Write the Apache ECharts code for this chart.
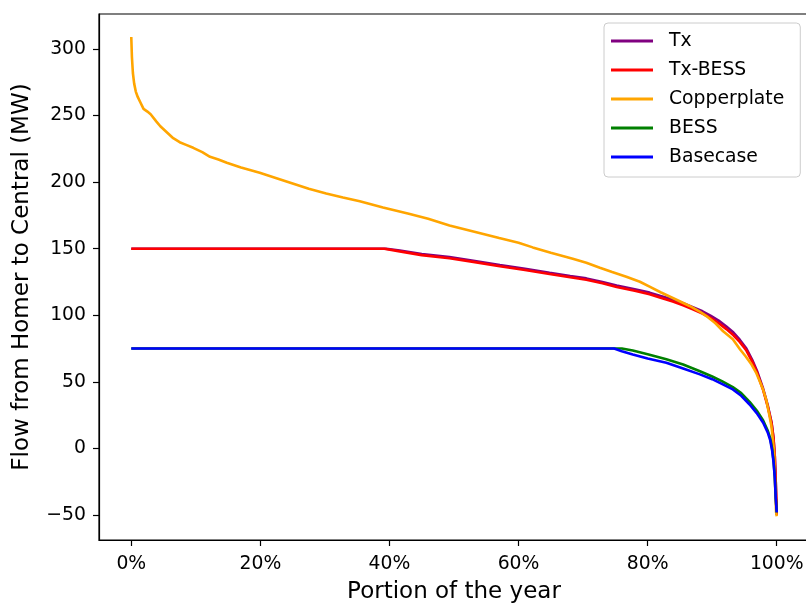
<!DOCTYPE html>
<html>
<head>
<meta charset="utf-8">
<script src="https://cdn.jsdelivr.net/npm/echarts@6/dist/echarts.min.js"></script>
<style>
  html, body { margin: 0; padding: 0; background: #fff; }
  #chart { width: 806px; height: 604px; }
</style>
</head>
<body>
<div id="chart"></div>
<script>
// Duration curves of flow from Homer to Central, x = portion of the year (%), y = MW
const txX = [0, 39.5, 41.6, 45, 49.3, 53, 57.1, 61, 64.8, 68, 70.5, 73, 75.2, 78, 80.3, 82, 83.9, 85.5, 87, 88.5, 89.8, 91, 92.2, 93.3, 94.3, 95.3, 96.2, 97, 97.9, 98.6, 99.2, 99.5, 99.7, 99.85, 100];
const txY = [150, 150, 148.7, 146, 143.7, 141, 137.7, 135, 132, 129.5, 127.7, 125, 122.4, 119.5, 117, 114.5, 111.8, 109, 106, 103, 99.5, 96, 91.5, 87, 81.5, 75, 66.5, 57.5, 44.8, 32.5, 19.5, 8, -5.8, -25, -50];

const txBessX = [0, 39.2, 41.6, 45, 49.3, 53, 57.1, 61, 64.8, 68, 70.5, 73, 75.2, 78, 80.3, 82, 83.9, 85.5, 87, 88.5, 89.8, 91, 92.2, 93.3, 94.3, 95.3, 96.2, 97, 97.9, 98.6, 99.2, 99.5, 99.7, 99.85, 100];
const txBessY = [150, 150, 148, 145.2, 142.8, 140.1, 136.8, 134, 131, 128.5, 126.7, 124, 121.3, 118.4, 115.8, 113.2, 110.4, 107.5, 104.5, 101.3, 97.8, 94, 89.6, 85, 79.8, 73.5, 65.2, 56.2, 43.8, 31.6, 18.8, 7.5, -6.2, -25.5, -50];

const copperX = [0, 0.1, 0.25, 0.45, 0.7, 1.0, 1.4, 1.9, 2.5, 3.0, 3.9, 4.5, 5.5, 6.5, 7.5, 8.5, 9.6, 11, 12.2, 13.5, 14.8, 17, 19.9, 22.5, 25, 27.5, 30.2, 32.8, 35.4, 39, 43, 46, 49.3, 53, 57, 60, 62.2, 65, 68.4, 70.5, 72.6, 74.5, 76.7, 78.8, 80.3, 82, 83.9, 85.2, 86.5, 88, 89.1, 90.5, 91.7, 93.2, 94.3, 95.2, 96.1, 96.8, 97.4, 97.9, 98.4, 98.9, 99.2, 99.4, 99.6, 99.7, 99.8, 99.9, 100];
const copperY = [309, 294, 282, 274, 268, 264, 260, 255, 253, 251, 245.5, 242, 237.5, 233, 230, 228, 225.8, 222.5, 219, 217, 214.6, 211, 207, 203, 199, 195, 191.5, 188.5, 185.7, 181, 176.3, 172.5, 167.5, 163, 158, 154.5, 151, 147, 142.5, 139.5, 135.7, 132.5, 129, 125.2, 121.5, 117.3, 113, 110, 107, 103, 99.4, 94, 88, 82, 74.5, 69, 63, 57, 50, 44, 36, 24, 16, 7, -3, -18, -35, -48, -51];

const bessX = [0, 76, 77.7, 80, 82.9, 85.5, 88.1, 90, 91.5, 93.2, 94.5, 95.8, 96.9, 97.9, 98.6, 99.0, 99.3, 99.5, 99.7, 99.85, 100];
const bessY = [75, 75, 73.5, 70.8, 67, 63, 58, 54, 50.5, 46, 41.5, 35, 28.5, 21, 13.5, 7.5, -0.5, -9, -21, -37, -48];

const baseX = [0, 74.8, 76, 77.7, 80, 82.9, 85.5, 88.1, 90, 91.5, 93.2, 94.5, 95.8, 96.9, 97.9, 98.6, 99.0, 99.3, 99.5, 99.7, 99.85, 100];
const baseY = [75, 75, 73, 70.6, 67.5, 64.4, 60, 55.6, 52, 48.5, 44.3, 39.5, 33, 26.5, 19.3, 12, 6, -2, -10, -22, -38, -48];

const xTicks = [0, 20, 40, 60, 80, 100];
const yTicks = [-50, 0, 50, 100, 150, 200, 250, 300];

const seriesNames = ['Tx', 'Tx-BESS', 'Copperplate', 'BESS', 'Basecase'];
const seriesColors = ['#800080', '#ff0000', '#ffa500', '#008000', '#0000ff'];
const seriesX = [txX, txBessX, copperX, bessX, baseX];
const seriesY = [txY, txBessY, copperY, bessY, baseY];

const FONT = 'DejaVu Sans';
const TICK_SIZE = 18.8;
const TITLE_SIZE = 23;

const pairs = (xs, ys) => xs.map((x, i) => [x, ys[i]]);
// typographic minus sign for negative tick values
const num = v => String(v).replace('-', '\u2212');

const chart = echarts.init(document.getElementById('chart'), null, { renderer: 'canvas' });

chart.setOption({
  animation: false,
  backgroundColor: '#ffffff',
  grid: {
    left: 99, top: 14, width: 710, height: 526,
    containLabel: false,
    outerBoundsMode: 'none',
    show: true, borderColor: '#000', borderWidth: 1.2,
    backgroundColor: 'transparent'
  },
  legend: {
    orient: 'vertical',
    left: 604, top: 23,
    padding: [8, 16, 10, 7],
    itemWidth: 42, itemHeight: 3,
    itemGap: 9,
    icon: 'rect',
    borderColor: '#cccccc', borderWidth: 1, borderRadius: 4,
    backgroundColor: 'rgba(255,255,255,0.8)',
    textStyle: { fontFamily: FONT, fontSize: TICK_SIZE, color: '#000', lineHeight: 20, padding: [0, 0, 0, 11] },
    data: seriesNames
  },
  xAxis: {
    type: 'value', min: -5, max: 105,
    name: 'Portion of the year', nameLocation: 'middle', nameGap: 41,
    nameTextStyle: { fontFamily: FONT, fontSize: TITLE_SIZE, color: '#000' },
    axisLine: { show: true, onZero: false, lineStyle: { color: '#000', width: 1.2 } },
    axisTick: { show: true, length: 6, lineStyle: { color: '#000', width: 1.2 }, customValues: xTicks },
    axisLabel: { fontFamily: FONT, fontSize: TICK_SIZE, color: '#000', margin: 15, customValues: xTicks, formatter: v => v + '%' },
    splitLine: { show: false }
  },
  yAxis: {
    type: 'value', min: -68.8, max: 326.3,
    name: 'Flow from Homer to Central (MW)', nameLocation: 'middle', nameGap: 65,
    nameTextStyle: { fontFamily: FONT, fontSize: TITLE_SIZE, color: '#000' },
    axisLine: { show: true, onZero: false, lineStyle: { color: '#000', width: 1.2 } },
    axisTick: { show: true, length: 6, lineStyle: { color: '#000', width: 1.2 }, customValues: yTicks },
    axisLabel: { fontFamily: FONT, fontSize: TICK_SIZE, color: '#000', margin: 13, customValues: yTicks, formatter: num },
    splitLine: { show: false }
  },
  series: seriesNames.map((name, i) => ({
    name,
    type: 'line',
    data: pairs(seriesX[i], seriesY[i]),
    showSymbol: false,
    symbol: 'none',
    color: seriesColors[i],
    lineStyle: { color: seriesColors[i], width: 2.6 },
    z: 2 + i
  }))
});
</script>
</body>
</html>
